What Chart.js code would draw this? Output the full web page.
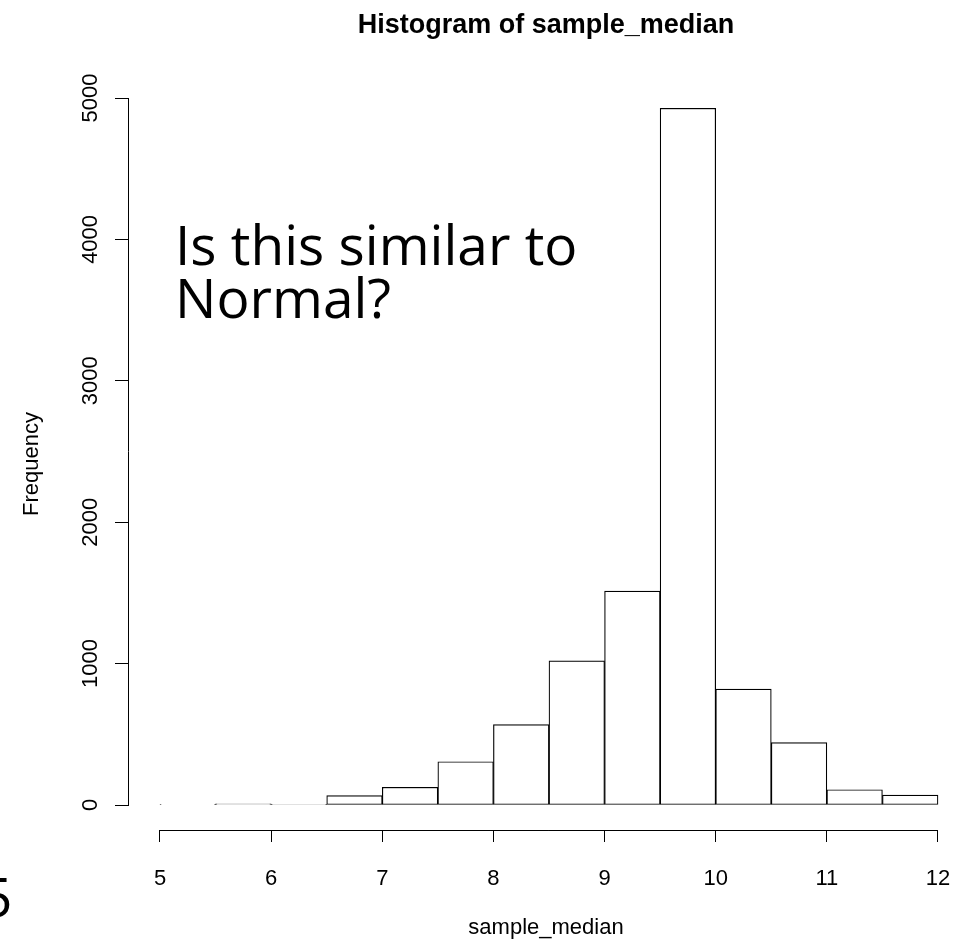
<!DOCTYPE html>
<html>
<head>
<meta charset="utf-8">
<script src="https://cdn.jsdelivr.net/npm/chart.js@4.4.1/dist/chart.umd.min.js"></script>
<style>
  html, body { margin: 0; padding: 0; background: #fff; }
  #wrap { width: 963px; height: 947px; }
</style>
</head>
<body>
<div id="wrap"><canvas id="histChart" width="963" height="947"></canvas></div>
<script>
// histogram bins (mid points, width 0.5) and counts
let binMids = [5.25, 5.75, 6.25, 6.75, 7.25, 7.75, 8.25, 8.75, 9.25, 9.75, 10.25, 10.75, 11.25, 11.75];
let counts = [2, 9, 3, 66, 125, 306, 568, 1020, 1513, 4927, 820, 441, 108, 70];
let xTicks = [5, 6, 7, 8, 9, 10, 11, 12];
let yTicks = [0, 1000, 2000, 3000, 4000, 5000];
let noteLines = ['Is this similar to', 'Normal?'];
let slideNumber = '5';

Chart.defaults.font.family = "'Liberation Sans', Arial, sans-serif";
Chart.defaults.color = '#000';

// R style axes: lines only from first to last tick, plus the slide text on top
let rAxes = {
  id: 'rAxes',
  afterDraw(chart) {
    let c = chart.ctx;
    let xs = chart.scales.x, ys = chart.scales.y;
    let area = chart.chartArea;
    c.save();
    c.strokeStyle = '#000';
    c.lineWidth = 1;
    c.beginPath();
    let yb = Math.round(area.bottom) + 0.5;
    c.moveTo(xs.getPixelForValue(xTicks[0]), yb);
    c.lineTo(xs.getPixelForValue(xTicks[xTicks.length - 1]), yb);
    let xl = Math.round(area.left) - 0.5;
    c.moveTo(xl, ys.getPixelForValue(yTicks[0]));
    c.lineTo(xl, ys.getPixelForValue(yTicks[yTicks.length - 1]));
    c.stroke();

    c.fillStyle = '#000';
    c.font = "55px 'Open Sans'";
    c.textBaseline = 'alphabetic';
    c.textAlign = 'left';
    c.fillText(noteLines[0], 175, 265);
    c.fillText(noteLines[1], 175, 318);
    c.fillText(slideNumber, -19, 917);
    c.restore();
  }
};

let histChart = new Chart(document.getElementById('histChart'), {
  type: 'bar',
  data: {
    datasets: [{
      data: binMids.map((m, i) => ({x: m, y: counts[i]})),
      backgroundColor: '#fff',
      borderColor: '#000',
      borderWidth: 1.2,
      borderSkipped: false,
      barPercentage: 1,
      categoryPercentage: 1
    }]
  },
  options: {
    responsive: false,
    animation: false,
    layout: { padding: 0 },
    plugins: {
      legend: { display: false },
      tooltip: { enabled: false },
      title: {
        display: true,
        text: 'Histogram of sample_median',
        fullSize: false,
        color: '#000',
        font: { size: 27, weight: 'bold' },
        padding: { top: 9, bottom: 56.6 }
      }
    },
    scales: {
      x: {
        type: 'linear',
        offset: false,
        min: 4.7211,
        max: 12.225,
        afterBuildTicks: s => { s.ticks = xTicks.map(v => ({value: v})); },
        afterFit: s => { s.height = 117; s.paddingLeft = 0; s.paddingRight = 0; },
        grid: { offset: false, drawOnChartArea: false, drawTicks: true, tickLength: 12, tickColor: '#000', tickWidth: 1 },
        border: { display: false },
        ticks: {
          color: '#000', font: { size: 22 }, padding: 24,
          maxRotation: 0, autoSkip: false,
          callback: v => String(v)
        },
        title: {
          display: true, text: 'sample_median', color: '#000',
          font: { size: 22 }, padding: { top: 0, bottom: 6 }
        }
      },
      y: {
        min: -176.8,
        max: 5000,
        afterBuildTicks: s => { s.ticks = yTicks.map(v => ({value: v})); },
        afterFit: s => { s.width = 129; },
        grid: { drawOnChartArea: false, drawTicks: true, tickLength: 14, tickColor: '#000', tickWidth: 1 },
        border: { display: false },
        ticks: {
          color: '#000', font: { size: 22 }, padding: 0,
          minRotation: 90, maxRotation: 90, crossAlign: 'center',
          autoSkip: false,
          callback: v => String(v)
        },
        title: {
          display: true, text: 'Frequency', color: '#000',
          font: { size: 22 }, padding: { top: 19, bottom: 0 }
        }
      }
    }
  },
  plugins: [rAxes]
});
</script>
</body>
</html>
